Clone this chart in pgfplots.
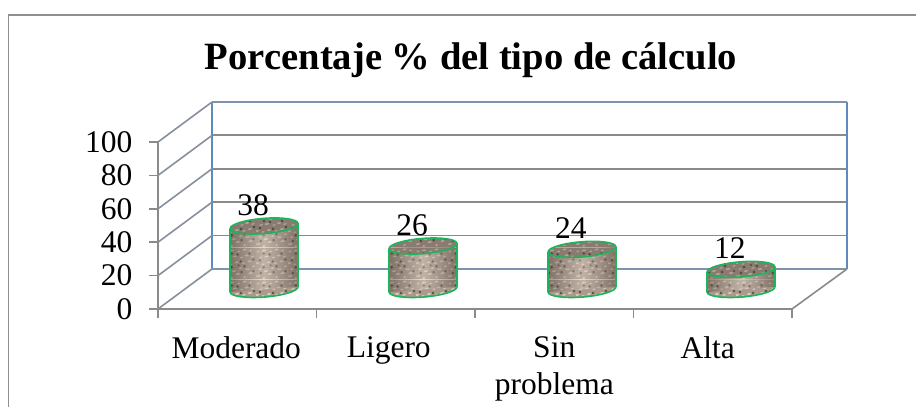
\documentclass[border=0pt]{standalone}
\usepackage{fontspec}
\setmainfont{Liberation Serif}
\usepackage{pgfplots}
\usepackage{pgfplotstable}
\pgfplotsset{compat=1.18}
\usetikzlibrary{patterns}

\definecolor{framegray}{HTML}{8F8F8F}
\definecolor{axisgray}{HTML}{8A8A8A}
\definecolor{wallblue}{HTML}{5F8AC0}
\definecolor{walltop}{HTML}{7E93AE}
\definecolor{sideedge}{HTML}{86909C}
\definecolor{edgegreen}{HTML}{1DB45A}

% Stone grain: a tile of pale and dark flecks over a base tone
\newcommand{\graincode}[3]{%
  \pgfsetfillcolor{#1}%
  \pgfpathrectangle{\pgfpointorigin}{\pgfqpoint{32pt}{32pt}}\pgfusepath{fill}%
  \pgfsetfillcolor{#2}%
  \foreach \x/\y/\r in {2/3/2.0,8/1/1.6,14/5/2.2,21/2/1.7,27/6/2.0,4/10/1.7,10/8/2.1,17/11/1.8,24/10/2.2,30/13/1.6,
                        1/16/2.1,7/15/1.6,13/17/2.1,20/16/1.8,26/18/2.0,5/22/1.8,11/23/2.2,18/22/1.7,23/24/2.0,29/23/1.8,
                        2/28/1.7,8/29/2.1,15/28/1.8,21/30/2.1,27/29/1.7}{%
    \pgfpathellipse{\pgfqpoint{\x pt}{\y pt}}{\pgfqpoint{\r pt}{0.5pt}}{\pgfqpoint{-0.3pt}{0.9pt}}\pgfusepath{fill}}%
  \pgfsetfillcolor{#3}%
  \foreach \x/\y/\r in {5/6/1.3,18/7/1.4,30/8/1.2,8/12/1.4,21/13/1.4,15/14/1.1,
                        4/19/1.3,17/18/1.4,30/20/1.3,8/26/1.3,14/25/1.4,26/26/1.3}{%
    \pgfpathcircle{\pgfqpoint{\x pt}{\y pt}}{\r pt}\pgfusepath{fill}}%
}
\definecolor{sidebase}{HTML}{AB9A8D}
\definecolor{sidepale}{HTML}{D8CBBF}
\definecolor{sidedark}{HTML}{5E5046}
\definecolor{lidbase}{HTML}{8A7B70}
\definecolor{lidpale}{HTML}{AFA297}
\definecolor{liddark}{HTML}{52463E}
\definecolor{rimshade}{HTML}{3A2F28}
\definecolor{midshade}{HTML}{E6DBD0}
\pgfdeclarepatterninherentlycolored{sidegrain}{\pgfpointorigin}{\pgfqpoint{32pt}{32pt}}{\pgfqpoint{32pt}{32pt}}{\graincode{sidebase}{sidepale}{sidedark}}
\pgfdeclarepatterninherentlycolored{lidgrain}{\pgfpointorigin}{\pgfqpoint{32pt}{32pt}}{\pgfqpoint{32pt}{32pt}}{\graincode{lidbase}{lidpale}{liddark}}

% Tilted end caps of a cylinder
\pgfdeclareplotmark{cyltop}{%
  \path[draw=edgegreen,line width=1.6pt,pattern=lidgrain]
    (0pt,0pt) ellipse[x radius=34pt,y radius=7.6pt,rotate=4.5];}
\pgfdeclareplotmark{cylbase}{%
  \path[draw=edgegreen,line width=1.6pt,pattern=sidegrain]
    (0pt,0pt) ellipse[x radius=34pt,y radius=7.6pt,rotate=4.5];}

% Side wall of one cylinder: left x, right x, top-left y, top-right y
\newcommand{\cylside}[4]{%
  \addplot[forget plot,draw=none,pattern=sidegrain,mark=none]
    coordinates {(#1,-1.6) (#2,1.6) (#2,#4) (#1,#3)};
  \addplot[forget plot,draw=none,mark=none,fill opacity=0.38,
           left color=rimshade,right color=rimshade,middle color=midshade]
    coordinates {(#1,-1.6) (#2,1.6) (#2,#4) (#1,#3)};
  \addplot[forget plot,edgegreen,line width=1.6pt,mark=none] coordinates {(#1,-1.6) (#1,#3)};
  \addplot[forget plot,edgegreen,line width=1.6pt,mark=none] coordinates {(#2,1.6) (#2,#4)};
}

\pgfplotstableread{
x     v
0.669 38
1.672 26
2.675 24
3.678 12
}\calculo

\begin{document}
\begin{tikzpicture}[x=1pt,y=1pt]
  \path[use as bounding box] (0,0) rectangle (916,407);
  % outer chart frame, open at the right and cut at the bottom
  \draw[framegray,line width=1.6pt] (8.6,0) -- (8.6,391.7) -- (916,391.7);
  \node[font=\bfseries\fontsize{38.6}{38}\selectfont,anchor=base] at (471,337) {Porcentaje \% del tipo de cálculo};

  % back wall
  \begin{axis}[
    at={(212pt,138pt)},anchor=south west,scale only axis,width=635pt,height=167pt,
    xmin=0,xmax=4,ymin=0,ymax=100,
    xtick=\empty,ytick={0,20,...,100},yticklabels={},
    major tick length=0pt,
    ymajorgrids,grid style={axisgray,line width=1.8pt},
    axis line style={draw=none},
    clip=false]
    \addplot[forget plot,wallblue,line width=1.7pt,mark=none] coordinates {(0,0) (0,100)};
    \addplot[forget plot,wallblue,line width=1.7pt,mark=none] coordinates {(4,0) (4,100)};
    \addplot[forget plot,walltop,line width=1.8pt,mark=none] coordinates {(0,100) (4,100)};
    \addplot[forget plot,walltop,line width=1.8pt,mark=none] coordinates {(0,0) (4,0)};
  \end{axis}

  % front plane with the axes, their ticks and the side wall and floor edges
  \begin{axis}[
    at={(158pt,98pt)},anchor=south west,scale only axis,width=634pt,height=167pt,
    xmin=0,xmax=4,ymin=0,ymax=100,
    axis x line*=bottom,axis y line*=left,
    axis line style={axisgray,line width=1.7pt,-},
    xtick={0,1,2,3,4},
    x tick label as interval,
    xticklabels={\hspace*{-2pt}Moderado,\hspace*{-14pt}Ligero,{Sin\\problema},\hspace*{-10pt}Alta},
    xticklabel style={font=\fontsize{31.5}{37}\selectfont,align=center,yshift=-15pt},
    ytick={0,20,...,100},
    yticklabel style={font=\fontsize{31.5}{28}\selectfont,xshift=-13pt},
    tick style={axisgray,line width=1.6pt},
    major tick length=9pt,
    tick align=outside,
    /pgf/number format/assume math mode=true,
    clip=false]
    \pgfplotsinvokeforeach{0,20,40,60,80,100}{
      \draw[sideedge,line width=1.6pt] (axis cs:0,#1) -- ++(54pt,40pt);
    }
    \draw[axisgray,line width=1.6pt] (axis cs:4,0) -- ++(55pt,40pt);
  \end{axis}

  % lower rims of the cylinders, under their side walls
  \begin{axis}[
    at={(158pt,98pt)},anchor=south west,scale only axis,width=634pt,height=167pt,
    xmin=0,xmax=4,ymin=-11.7,ymax=88.3,
    hide axis,clip=false]
    \addplot[forget plot,only marks,mark=cylbase] table[x=x,y expr=0] {\calculo};
  \end{axis}

  % side walls and lids, rising from a floor line set back from the front edge
  \begin{axis}[
    at={(158pt,98pt)},anchor=south west,scale only axis,width=634pt,height=167pt,
    xmin=0,xmax=4,ymin=-11.7,ymax=88.3,
    hide axis,clip=false,
    /pgf/number format/assume math mode=true]
    \cylside{0.4545}{0.8835}{36.4}{39.6}
    \cylside{1.4575}{1.8865}{24.4}{27.6}
    \cylside{2.4605}{2.8895}{22.4}{25.6}
    \cylside{3.4635}{3.8925}{10.4}{13.6}
    \addplot[only marks,mark=cyltop,
      nodes near coords,
      nodes near coords style={font=\fontsize{31.5}{28}\selectfont,anchor=base,inner sep=0pt,
                               xshift=-11pt,yshift=10.5pt,text=black}]
      table[x=x,y=v] {\calculo};
  \end{axis}
\end{tikzpicture}
\end{document}
